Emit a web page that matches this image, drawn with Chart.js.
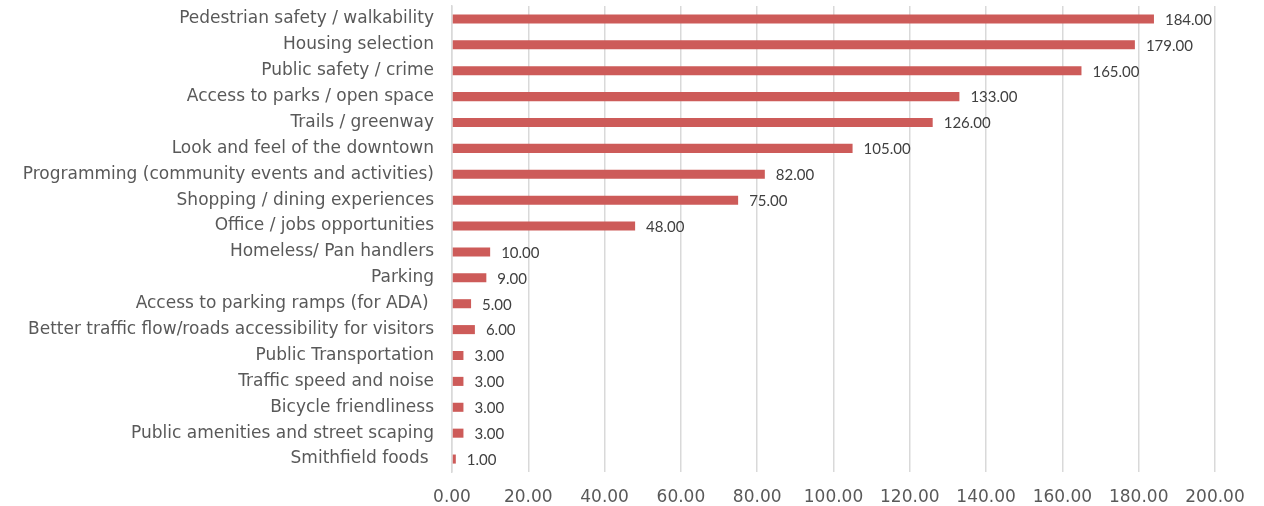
<!DOCTYPE html>
<html>
<head>
<meta charset="utf-8">
<script src="https://cdn.jsdelivr.net/npm/chart.js@4/dist/chart.umd.min.js"></script>
<style>
  html, body { margin: 0; padding: 0; background: #fff; }
  #wrap { width: 1264px; height: 506px; }
</style>
</head>
<body>
<div id="wrap"><canvas id="chart" width="1264" height="506"></canvas></div>
<script>
let categories = [
    'Pedestrian safety / walkability',
    'Housing selection',
    'Public safety / crime',
    'Access to parks / open space',
    'Trails / greenway',
    'Look and feel of the downtown',
    'Programming (community events and activities)',
    'Shopping / dining experiences',
    'Office / jobs opportunities',
    'Homeless/ Pan handlers',
    'Parking',
    'Access to parking ramps (for ADA) ',
    'Better traffic flow/roads accessibility for visitors',
    'Public Transportation',
    'Traffic speed and noise',
    'Bicycle friendliness',
    'Public amenities and street scaping',
    'Smithfield foods '
];
let responses = [184, 179, 165, 133, 126, 105, 82, 75, 48, 10, 9, 5, 6, 3, 3, 3, 3, 1];
let xTicks = [0, 20, 40, 60, 80, 100, 120, 140, 160, 180, 200];

// value labels at the end of each bar
const valueLabels = {
    id: 'valueLabels',
    afterDatasetsDraw(chart) {
        const ctx = chart.ctx;
        const meta = chart.getDatasetMeta(0);
        ctx.save();
        ctx.font = '15px Lato';
        ctx.fillStyle = '#404040';
        ctx.textAlign = 'left';
        ctx.textBaseline = 'middle';
        meta.data.forEach((bar, i) => {
            ctx.fillText(responses[i].toFixed(2), bar.x + 11, bar.y + 1);
        });
        ctx.restore();
    }
};

new Chart(document.getElementById('chart'), {
    type: 'bar',
    data: {
        labels: categories,
        datasets: [{
            data: responses,
            backgroundColor: '#CD5B59',
            barPercentage: 0.7,
            categoryPercentage: 0.5
        }]
    },
    options: {
        indexAxis: 'y',
        responsive: false,
        animation: false,
        layout: { padding: { top: 6, right: 49, bottom: 0, left: 0 } },
        plugins: {
            legend: { display: false },
            tooltip: { enabled: false }
        },
        scales: {
            x: {
                min: 0,
                max: 200,
                afterBuildTicks(scale) {
                    scale.ticks = xTicks.map(v => ({ value: v }));
                },
                afterFit(scale) { scale.height = 34; },
                ticks: {
                    font: { family: 'DejaVu Sans', size: 17 },
                    color: '#595959',
                    padding: 15,
                    callback: v => Number(v).toFixed(2)
                },
                grid: { color: '#d9d9d9', lineWidth: 1.5, drawTicks: false },
                border: { display: false }
            },
            y: {
                afterFit(scale) {
                    scale.width = 452;
                    scale.paddingTop = 0;
                    scale.paddingBottom = 0;
                },
                ticks: {
                    font: { family: 'DejaVu Sans', size: 17 },
                    color: '#595959',
                    padding: 18,
                    autoSkip: false
                },
                grid: { display: false, drawTicks: false },
                border: { display: true, color: '#d9d9d9', width: 1.5 }
            }
        }
    },
    plugins: [valueLabels]
});
</script>
</body>
</html>
